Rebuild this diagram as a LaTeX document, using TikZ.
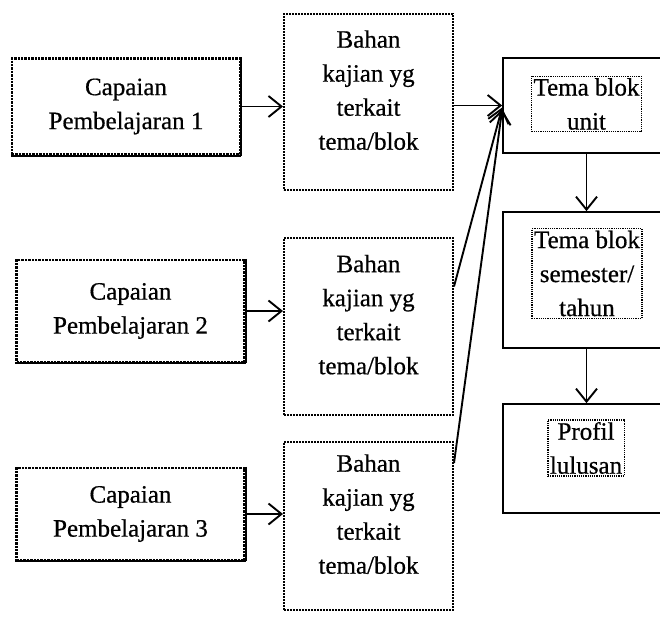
\documentclass[tikz,border=0pt]{standalone}
\usepackage{fontspec}
\setmainfont[FakeBold=0.6]{Liberation Serif}
\usetikzlibrary{arrows.meta}

\newcommand{\bahantext}{Bahan\\kajian yg\\terkait\\tema/blok\\[-10pt]\mbox{}}

\tikzset{
    capbox/.style={draw, densely dotted, line width=2.4pt, align=center,
        minimum width=228pt, minimum height=96pt, inner sep=0pt,
        append after command={(\tikzlastnode.north east) edge[line width=2.4pt] (\tikzlastnode.south east)
            (\tikzlastnode.south east) edge[line width=2.4pt] (\tikzlastnode.south west)}},
    bahanbox/.style={draw, densely dotted, line width=2pt, align=center,
        minimum width=169pt, inner sep=0pt},
    temabox/.style={draw, line width=1.7pt, minimum width=167pt, inner sep=0pt},
    txtbox/.style={draw, densely dotted, line width=1.2pt, align=center, inner sep=2pt},
    arr/.style={-{Straight Barb[length=13pt,width=21pt]}, line width=1.9pt}
}

\begin{document}
\begin{tikzpicture}[x=1pt, y=-1pt, font=\fontsize{25}{34}\selectfont]
            \clip (0,0) rectangle (660,618);
            \node[capbox] (cp1) at (126,106.5) {Capaian\\Pembelajaran 1};
            \node[capbox, minimum height=102pt] (cp2) at (130.5,311) {Capaian\\Pembelajaran 2};
            \node[capbox, minimum height=92pt] (cp3) at (130.5,514) {Capaian\\Pembelajaran 3};
            \node[bahanbox, minimum height=176pt] (bk1) at (368.5,102) {\bahantext};
            \node[bahanbox, minimum height=177pt] (bk2) at (368.5,326.5) {\bahantext};
            \node[bahanbox, minimum height=168pt] (bk3) at (368.5,526) {\bahantext};
            \node[temabox, minimum height=95pt] (tu) at (586.5,105.5) {};
            \node[temabox, minimum height=136pt] (ts) at (586.5,280) {};
            \node[temabox, minimum height=109pt] (pf) at (586.5,458.5) {};
            \node[txtbox] (tu-t) at (586.5,104) {Tema blok\\unit};
            \node[txtbox] (ts-t) at (587,273.5) {Tema blok\\semester/\\tahun};
            \node[txtbox] (pf-t) at (586,448) {Profil\\lulusan};
            \draw[arr] (cp1.east) -- (cp1.east -| bk1.west);
            \draw[arr] (cp2.east) -- (cp2.east -| bk2.west);
            \draw[arr] (cp3.east) -- (cp3.east -| bk3.west);
            \draw[arr] (bk1.east |- tu.west) -- (tu.west);
            \draw[arr] ([yshift=40pt]bk2.east) -- ([yshift=-2pt]tu.west);
            \draw[arr] ([yshift=63pt]bk3.east) -- ([yshift=-4pt]tu.west);
            \draw[arr] (tu.south) -- (ts.north);
            \draw[arr] (ts.south) -- (pf.north);
        \end{tikzpicture}
\end{document}
